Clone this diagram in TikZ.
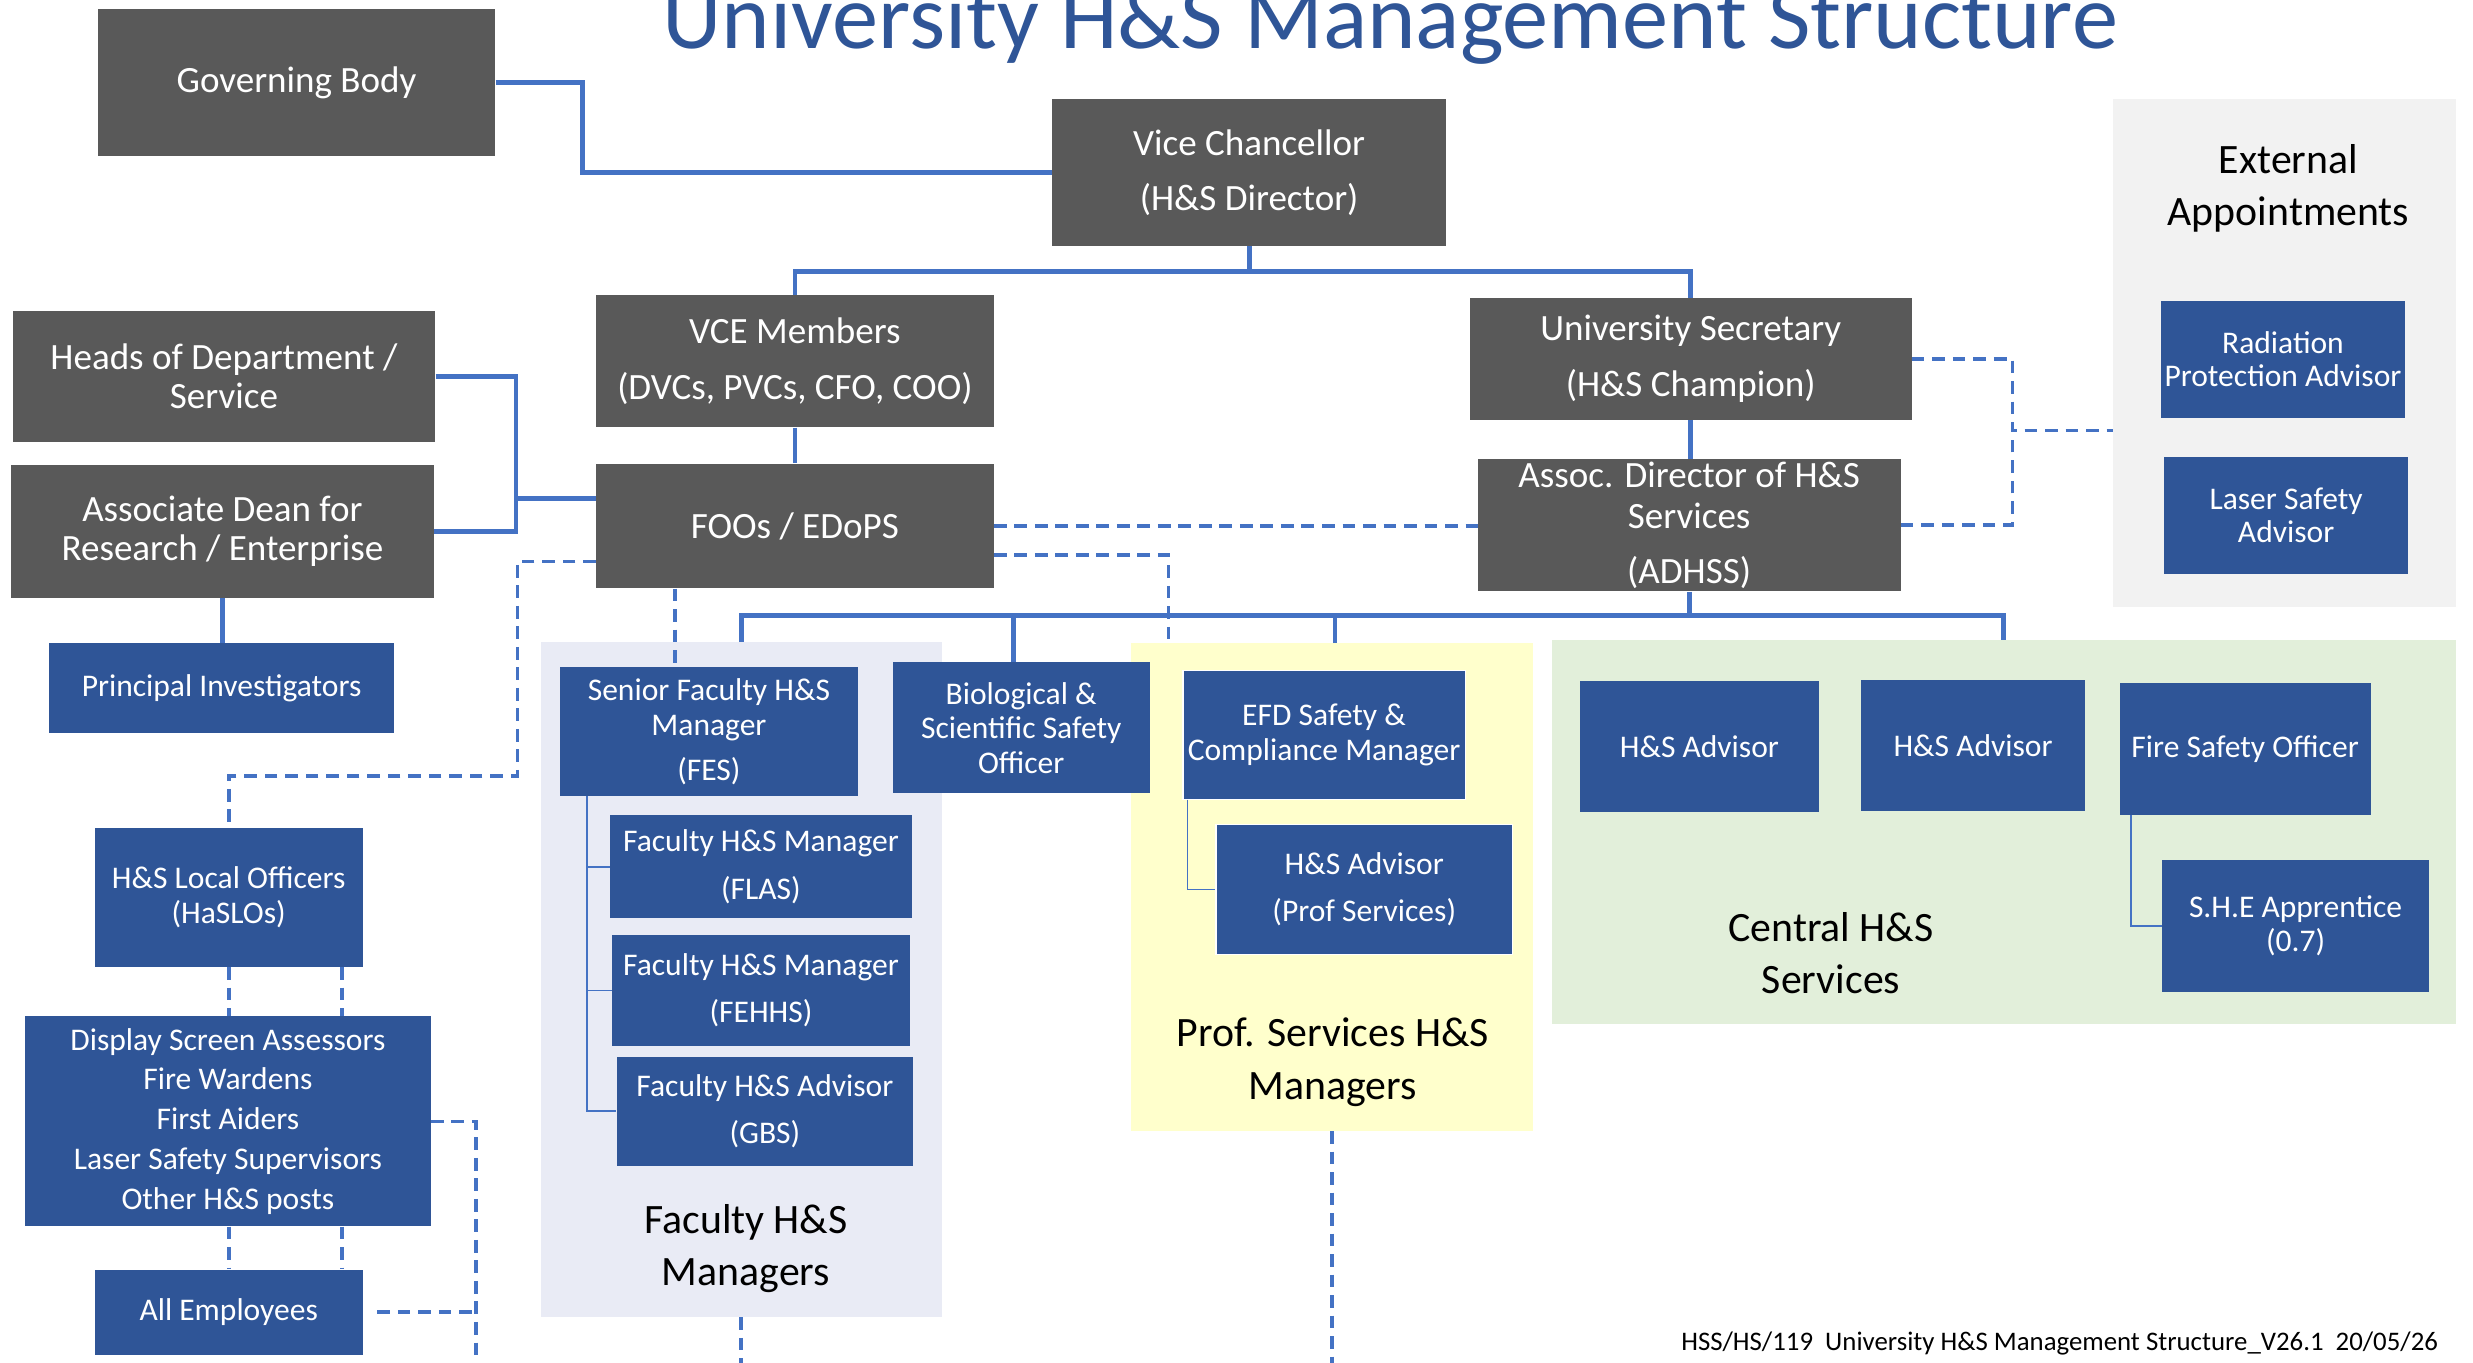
\documentclass[tikz,border=0pt]{standalone}
\usepackage{fontspec}
\setmainfont{Carlito}
\usetikzlibrary{calc}
\definecolor{dgrey}{HTML}{595959}
\definecolor{bblue}{HTML}{2F5597}
\definecolor{lblue}{HTML}{4472C4}
\definecolor{extbg}{HTML}{F2F2F2}
\definecolor{facbg}{HTML}{E9EBF5}
\definecolor{profbg}{HTML}{FFFFCC}
\definecolor{cenbg}{HTML}{E2EFDA}
\begin{document}
\begin{tikzpicture}[x=1pt,y=-1pt,
  gbox/.style={fill=dgrey,text=white,inner sep=0pt,align=center,font=\fontsize{23.5}{35}\selectfont},
  bbox/.style={fill=bblue,text=white,inner sep=0pt,align=center,font=\fontsize{20}{22}\selectfont},
  panel/.style={inner sep=0pt},
  ptxt/.style={align=center,text=black,inner sep=0pt,font=\fontsize{26.5}{33}\selectfont},
  conn/.style={draw=lblue,line width=3pt},
  dconn/.style={draw=lblue,line width=2.3pt,dash pattern=on 8pt off 5pt},
  bracket/.style={draw=lblue,line width=1.1pt}]
\fill[white] (0,0) rectangle (1568,864);
\useasboundingbox (0,0) rectangle (1568,864);

% title
\node[anchor=base,text=bblue,inner sep=0pt,font=\fontsize{58.6}{60}\selectfont] (title) at (881.5,31) {University H\&S Management Structure};

% panels
\node[panel,fill=extbg,minimum width=217,minimum height=322] (extpanel) at (1448.5,224) {};
\node[panel,fill=facbg,minimum width=254,minimum height=428] (facpanel) at (470,621) {};
\node[panel,fill=profbg,minimum width=255,minimum height=309] (profpanel) at (844.5,562.5) {};
\node[panel,fill=cenbg,minimum width=573,minimum height=243] (cenpanel) at (1270.5,527.5) {};

\node[ptxt] (exttxt) at (1451,119.5) {External\\Appointments};
\node[ptxt] (factxt) at (473,791.5) {Faculty H\&S\\Managers};
\node[ptxt] (proftxt) at (845,673.5) {Prof. Services H\&S\\Managers};
\node[ptxt] (centxt) at (1161,604.5) {Central H\&S\\Services};

% grey boxes
\node[gbox,minimum width=252,minimum height=93] (gov) at (188,52.5) {Governing Body};
\node[gbox,minimum width=250,minimum height=93] (vc) at (792,109.5) {Vice Chancellor\\(H\&S Director)};
\node[gbox,minimum width=252,minimum height=84] (vce) at (504,229) {VCE Members\\(DVCs, PVCs, CFO, COO)};
\node[gbox,minimum width=280,minimum height=77] (usec) at (1072,227.5) {University Secretary\\(H\&S Champion)};
\node[gbox,minimum width=268,minimum height=83,font=\fontsize{23.5}{25}\selectfont] (hod) at (142,238.5) {Heads of Department /\\Service};
\node[gbox,minimum width=268,minimum height=84,font=\fontsize{23.5}{25}\selectfont] (adean) at (141,337) {Associate Dean for\\Research / Enterprise};
\node[gbox,minimum width=252,minimum height=79] (foos) at (504,333.5) {FOOs / EDoPS};
\node[gbox,minimum width=268,minimum height=84,font=\fontsize{23.5}{26}\selectfont] (adhss) at (1071,333) {Assoc. Director of H\&S\\Services\\[9pt](ADHSS)};

% blue boxes
\node[bbox,minimum width=219,minimum height=57] (pi) at (140.5,436.5) {Principal Investigators};
\node[bbox,minimum width=155,minimum height=74,font=\fontsize{20}{21}\selectfont] (rpa) at (1447.5,228) {Radiation\\Protection Advisor};
\node[bbox,minimum width=155,minimum height=74,font=\fontsize{20}{21}\selectfont] (lsa) at (1449.5,327) {Laser Safety\\Advisor};
\node[bbox,minimum width=189,minimum height=82] (sfm) at (449.5,464) {Senior Faculty H\&S\\Manager\\[7pt](FES)};
\node[bbox,minimum width=163,minimum height=83] (bio) at (647.5,461.5) {Biological \&\\Scientific Safety\\Officer};
\node[bbox,minimum width=191,minimum height=65,font=\fontsize{20}{30}\selectfont] (flas) at (482.5,549.5) {Faculty H\&S Manager\\(FLAS)};
\node[bbox,minimum width=189,minimum height=70,font=\fontsize{20}{30}\selectfont] (fehhs) at (482.5,628) {Faculty H\&S Manager\\(FEHHS)};
\node[bbox,minimum width=188,minimum height=69,font=\fontsize{20}{30}\selectfont] (gbs) at (485,704.5) {Faculty H\&S Advisor\\(GBS)};
\node[bbox,draw=white,line width=0.8pt,minimum width=179,minimum height=82] (efd) at (839.5,466) {EFD Safety \&\\Compliance Manager};
\node[bbox,draw=white,line width=0.8pt,minimum width=188,minimum height=82,font=\fontsize{20}{30}\selectfont] (hsaps) at (865,564) {H\&S Advisor\\(Prof Services)};
\node[bbox,minimum width=151,minimum height=83] (hsa1) at (1077.5,473.5) {H\&S Advisor};
\node[bbox,minimum width=142,minimum height=83] (hsa2) at (1251,472.5) {H\&S Advisor};
\node[bbox,minimum width=159,minimum height=84] (fso) at (1423.5,475) {Fire Safety Officer};
\node[bbox,minimum width=169,minimum height=84,font=\fontsize{20}{21}\selectfont] (she) at (1455.5,587) {S.H.E Apprentice\\(0.7)};
\node[bbox,minimum width=170,minimum height=88] (haslo) at (145,569) {H\&S Local Officers\\(HaSLOs)};
\node[bbox,minimum width=257,minimum height=133,font=\fontsize{20}{25.25}\selectfont] (dsa) at (144.5,711) {Display Screen Assessors\\Fire Wardens\\First Aiders\\Laser Safety Supervisors\\Other H\&S posts};
\node[bbox,minimum width=170,minimum height=54] (allemp) at (145,832) {All Employees};

% footer
\node[anchor=base east,inner sep=0pt,font=\fontsize{17}{18}\selectfont] (footer) at (1546,856) {HSS/HS/119\ \ University H\&S Management Structure\_V26.1\ \ 20/05/26};

% solid connectors
\draw[conn] (gov.east) -- ++(55,0) |- (vc.west);
\draw[conn] (vc.south) -- ++(0,16) coordinate (vcj);
\draw[conn] (vce.north) |- (vcj) -| (usec.north);
\draw[conn] (vce.south) -- (foos.north);
\draw[conn] (hod.east) -- ++(51,0) coordinate (hj) |- (adean.east);
\draw[conn] ([yshift=17.5pt]foos.west) -- ([yshift=17.5pt]foos.west -| hj);
\draw[conn] (usec.south) -- (usec.south |- adhss.north);
\draw[conn] (adhss.south) -- ++(0,15) coordinate (aj);
\draw[conn] (facpanel.north) |- (aj) -| (cenpanel.north);
\draw[conn] ([xshift=-5pt]bio.north) -- ([xshift=-5pt]bio.north |- aj);
\draw[conn] ([xshift=2pt]profpanel.north) -- ([xshift=2pt]profpanel.north |- aj);
\draw[conn] (adean.south) -- (adean.south |- pi.north);

% brackets
\coordinate (fbt) at (372,505);
\draw[bracket] (fbt) |- (gbs.west);
\draw[bracket] (fbt |- flas.west) -- (flas.west);
\draw[bracket] (fbt |- fehhs.west) -- (fehhs.west);
\coordinate (ebt) at (753,507);
\draw[bracket] (ebt) |- (hsaps.west);
\coordinate (sbt) at (1351,517);
\draw[bracket] (sbt) |- (she.west);

% dashed connectors
\draw[dconn] (foos.east) -- (foos.east -| adhss.west);
\draw[dconn] ([yshift=-18.5pt]foos.east) -| ([xshift=24pt]profpanel.north west);
\coordinate (xj) at (1276,273);
\draw[dconn] (usec.east) -| (xj) -- (xj -| extpanel.west);
\draw[dconn] (adhss.east) -| (xj);
\coordinate (fd) at ([xshift=-76pt]foos.south);
\draw[dconn] (fd) -- (fd |- sfm.north);
\coordinate (lj) at (328,492);
\draw[dconn] ([yshift=-22.5pt]foos.west) -| (lj) -| (haslo.north);
\coordinate (h2) at ([xshift=72pt]haslo.south);
\draw[dconn] (haslo.south) -- (haslo.south |- dsa.north);
\draw[dconn] (h2) -- (h2 |- dsa.north);
\draw[dconn] (allemp.north |- dsa.south) -- (allemp.north);
\draw[dconn] (h2 |- dsa.south) -- (h2 |- allemp.north);
\coordinate (rb) at (302,870);
\draw[dconn] (dsa.east) -| (rb);
\draw[dconn] ([xshift=9pt]allemp.east) -- (allemp.east -| rb);
\draw[dconn] (facpanel.south) -- ++(0,35);
\draw[dconn] (profpanel.south) -- ++(0,155);
\end{tikzpicture}
\end{document}
